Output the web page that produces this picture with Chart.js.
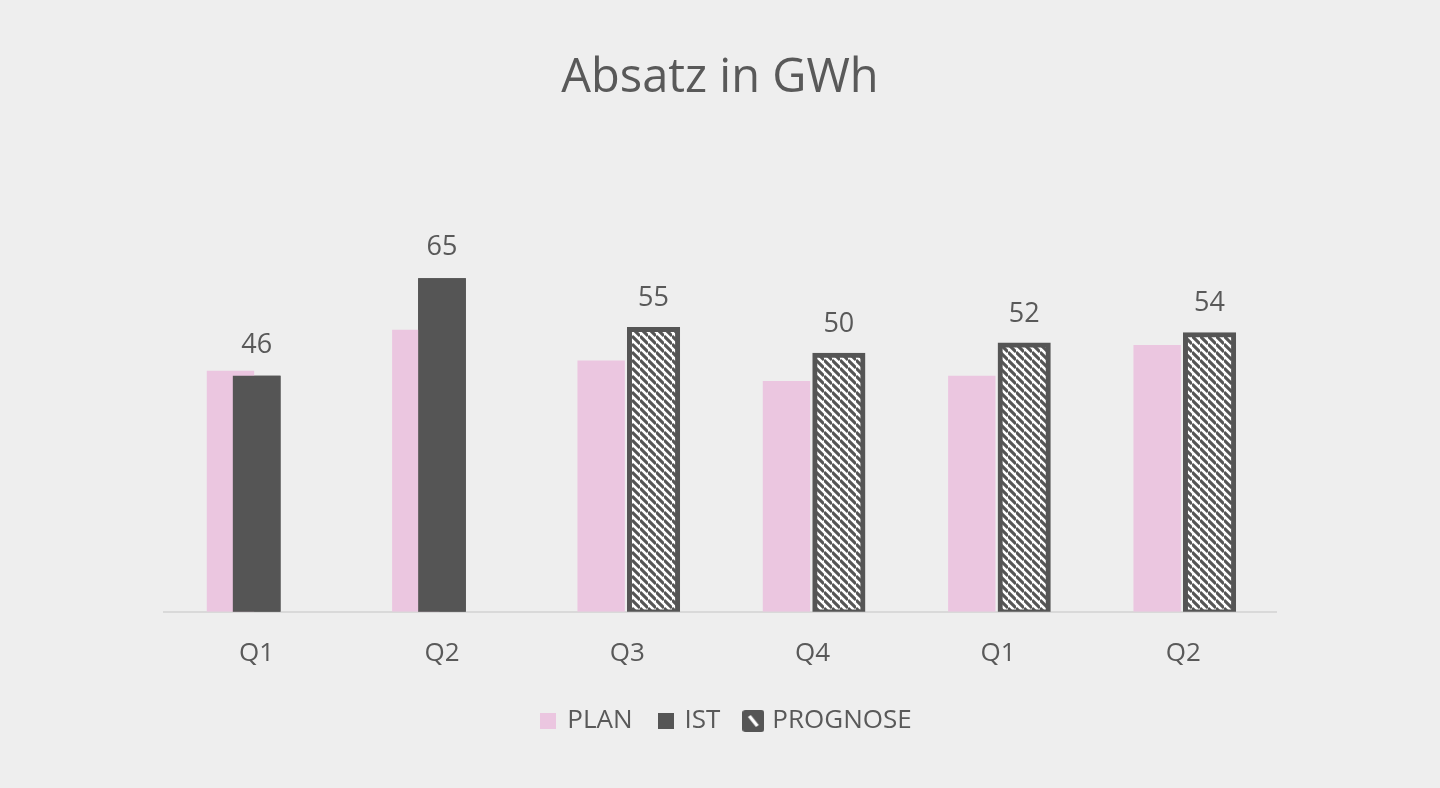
<!DOCTYPE html>
<html>
<head>
<meta charset="utf-8">
<title>Absatz in GWh</title>
<script src="https://cdn.jsdelivr.net/npm/chart.js@4.4.1/dist/chart.umd.min.js"></script>
<style>
    html, body { margin: 0; padding: 0; background: #eeeeee; }
    #wrap { width: 1440px; height: 788px; position: relative; }
</style>
</head>
<body>
<div id="wrap"><canvas id="myChart"></canvas></div>
<script>
var quarters = ['Q1', 'Q2', 'Q3', 'Q4', 'Q1', 'Q2'];
var planValues = [47, 55, 49, 45, 46, 52];
var istValues = [46, 65, null, null, null, null];
var prognoseValues = [null, null, 55, 50, 52, 54];

var textColor = '#595959';
var darkGray = '#555555';
var pink = '#ebc6e0';

Chart.defaults.font.family = "'Open Sans', 'Noto Sans', sans-serif";

// schraffur fuer prognose
function makeHatch(size) {
    var c = document.createElement('canvas');
    c.width = size;
    c.height = size;
    var g = c.getContext('2d');
    g.fillStyle = '#ffffff';
    g.fillRect(0, 0, size, size);
    g.strokeStyle = darkGray;
    g.lineWidth = 3.1;
    g.beginPath();
    for (var k = -1; k <= 1; k++) {
        g.moveTo(0, k * size);
        g.lineTo(size, size + k * size);
    }
    g.stroke();
    return g.createPattern(c, 'repeat');
}

function squareIcon(size, color) {
    var c = document.createElement('canvas');
    c.width = size;
    c.height = size;
    var g = c.getContext('2d');
    g.fillStyle = color;
    g.fillRect(0, 0, size, size);
    return c;
}

function prognoseIcon() {
    var c = document.createElement('canvas');
    c.width = 22;
    c.height = 22;
    var g = c.getContext('2d');
    g.fillStyle = darkGray;
    g.beginPath();
    g.roundRect(0, 0, 22, 22, 3);
    g.fill();
    g.strokeStyle = '#ffffff';
    g.lineWidth = 3.5;
    g.beginPath();
    g.moveTo(7, 6);
    g.lineTo(15, 16);
    g.stroke();
    return c;
}

var legendIcons = [squareIcon(16, pink), squareIcon(16, darkGray), prognoseIcon()];

// IST ueber PLAN zeichnen + Werte
var valueLabels = {
    id: 'valueLabels',
    afterLayout: function(chart) {
        // legende etwas nach rechts
        chart.legend.left += 7;
        chart.legend.right += 7;
    },
    afterDatasetsDraw: function(chart) {
        var c = chart.ctx;
        chart.getDatasetMeta(1).data.forEach(function(bar, i) {
            if (istValues[i] != null) bar.draw(c);
        });
        c.save();
        c.font = "27px 'Open Sans', 'Noto Sans', sans-serif";
        c.fillStyle = textColor;
        c.textAlign = 'center';
        c.textBaseline = 'middle';
        [1, 2].forEach(function(di) {
            var meta = chart.getDatasetMeta(di);
            meta.data.forEach(function(bar, i) {
                var v = chart.data.datasets[di].data[i];
                if (v == null) return;
                c.fillText(v, bar.x, bar.y - 31);
            });
        });
        c.restore();
    }
};

const ctx = document.getElementById('myChart');
var myChart = new Chart(ctx, {
    type: 'bar',
    data: {
        labels: quarters,
        datasets: [{
                label: 'PLAN',
                data: planValues,
                backgroundColor: pink,
                borderWidth: 0,
                barPercentage: 1.81
            },
            {
                label: 'IST',
                data: istValues,
                backgroundColor: darkGray,
                borderWidth: 0,
                barPercentage: 1.82
            },
            {
                label: 'PROGNOSE',
                data: prognoseValues,
                backgroundColor: makeHatch(8),
                borderColor: darkGray,
                borderWidth: 5,
                borderSkipped: false,
                inflateAmount: 2.6,
                barPercentage: 1.83
            }
        ]
    },
    options: {
        responsive: true,
        maintainAspectRatio: false,
        animation: false,
        categoryPercentage: 0.424,
        layout: {
            padding: { left: 164, right: 164, top: 0, bottom: 44 }
        },
        plugins: {
            title: {
                display: true,
                text: 'Absatz in GWh',
                color: textColor,
                font: { size: 47, weight: 'normal' },
                padding: { top: 50, bottom: 95 }
            },
            legend: {
                position: 'bottom',
                labels: {
                    usePointStyle: true,
                    pointStyleWidth: 12,
                    color: textColor,
                    font: { size: 26 },
                    padding: 27,
                    generateLabels: function(chart) {
                        return chart.data.datasets.map(function(ds, i) {
                            return {
                                text: ds.label,
                                pointStyle: legendIcons[i],
                                fontColor: textColor,
                                datasetIndex: i,
                                hidden: false,
                                lineWidth: 0
                            };
                        });
                    }
                }
            },
            tooltip: { enabled: false }
        },
        scales: {
            x: {
                z: 1,
                grid: { display: false },
                border: { display: true, color: '#d9d9d9', width: 2 },
                ticks: { color: textColor, font: { size: 26 }, padding: 18 },
                afterFit: function(scale) {
                    scale.height -= 6;
                }
            },
            y: {
                display: false,
                min: 0,
                max: 80
            }
        }
    },
    plugins: [valueLabels]
});
</script>
</body>
</html>
